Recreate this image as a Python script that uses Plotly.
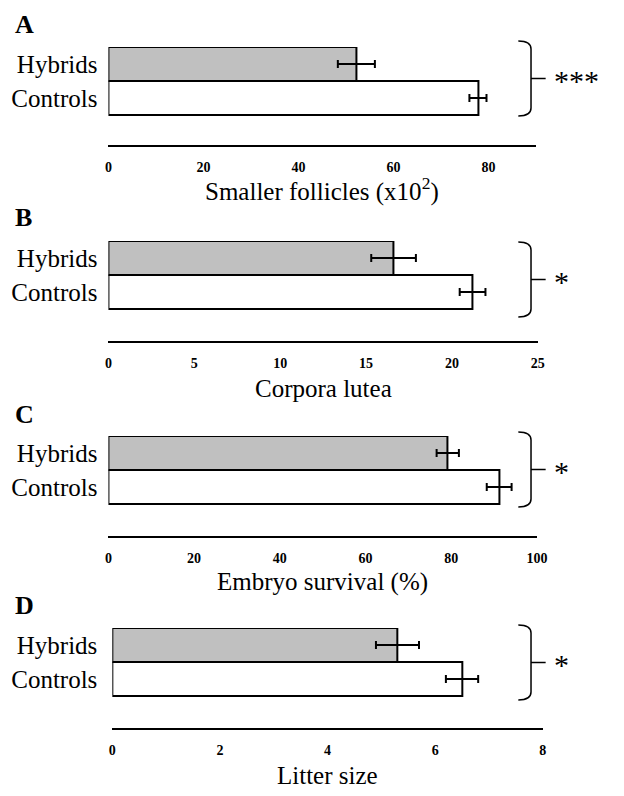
import plotly.graph_objects as go

# ---------------- data ----------------
categories = ["Controls", "Hybrids"]

follicles_mean = [77.8, 52.2]
follicles_err = [1.8, 3.9]

corpora_mean = [21.2, 16.6]
corpora_err = [0.75, 1.3]

survival_mean = [91.2, 79.2]
survival_err = [2.9, 2.6]

litter_mean = [6.5, 5.3]
litter_err = [0.3, 0.4]

panel_letters = ["A", "B", "C", "D"]
axis_titles = ["Smaller follicles (x10<sup>2</sup>)", "Corpora lutea",
               "Embryo survival (%)", "Litter size"]
significance = ["***", "*", "*", "*"]
x_ticks = [[0, 20, 40, 60, 80], [0, 5, 10, 15, 20, 25],
           [0, 20, 40, 60, 80, 100], [0, 2, 4, 6, 8]]
x_ranges = [[0, 90], [0, 25], [0, 100], [0, 8]]
means = [follicles_mean, corpora_mean, survival_mean, litter_mean]
errs = [follicles_err, corpora_err, survival_err, litter_err]

# ---------------- layout geometry (pixels of the page) ----------------
W, H = 624, 796
FONT = "Liberation Serif"
geo = [
    dict(x0=107, x1=545, top=47, axis=145, letter=25, title=190, bt=41, bb=116),
    dict(x0=107, x1=547, top=241, axis=341, letter=217, title=388, bt=242, bb=317),
    dict(x0=107, x1=546, top=436, axis=536, letter=415, title=582, bt=432, bb=507),
    dict(x0=111, x1=552, top=628, axis=728, letter=605, title=775, bt=625, bb=700),
]
BAR_PX = 34


def px(x):
    return x / W


def py(y):
    return 1 - y / H


fig = go.Figure()
colors = ["white", "#c0c0c0"]
annotations = []
shapes = []

for i in range(4):
    g = geo[i]
    xa = "x" if i == 0 else f"x{i+1}"
    ya = "y" if i == 0 else f"y{i+1}"
    fig.add_trace(go.Bar(
        x=means[i], y=categories, orientation="h",
        marker=dict(color=colors, line=dict(color="black", width=2)),
        width=1,
        error_x=dict(type="data", array=errs[i], color="black",
                     thickness=2, width=4),
        xaxis=xa, yaxis=ya, showlegend=False, hoverinfo="x+y",
    ))
    xkey = "xaxis" if i == 0 else f"xaxis{i+1}"
    ykey = "yaxis" if i == 0 else f"yaxis{i+1}"
    span = (g["axis"] - g["top"]) / BAR_PX
    fig.update_layout(**{
        xkey: dict(domain=[px(g["x0"]), px(g["x1"])], anchor=ya,
                   range=x_ranges[i], tickvals=x_ticks[i],
                   showline=True, linecolor="black", linewidth=2,
                   ticks="", showgrid=False, zeroline=False,
                   ticklabelstandoff=8,
                   tickfont=dict(family=FONT, size=14, color="black",
                                 weight="bold")),
        ykey: dict(domain=[py(g["axis"]), py(g["top"])], anchor=xa,
                   type="category", categoryorder="array",
                   categoryarray=categories,
                   range=[1.5 - span, 1.5],
                   showline=False, showgrid=False, zeroline=False,
                   ticks="", ticklabelstandoff=10 + (g["x0"] - 107),
                   tickfont=dict(family=FONT, size=25, color="black")),
    })
    # panel letter
    annotations.append(dict(text=panel_letters[i], xref="paper", yref="paper",
                            x=px(9), y=py(g["letter"]), xanchor="left",
                            yanchor="middle", showarrow=False,
                            font=dict(family=FONT, size=26, color="black",
                                      weight="bold")))
    # axis title
    annotations.append(dict(text=axis_titles[i], xref="paper", yref="paper",
                            x=px((g["x0"] + g["x1"]) / 2), y=py(g["title"]),
                            xanchor="center", yanchor="middle", showarrow=False,
                            font=dict(family=FONT, size=25, color="black")))
    # bracket
    bt, bb = g["bt"], g["bb"]
    mid = (bt + bb) / 2
    bx = 540
    path = (f"M {px(527)},{py(bt)} Q {px(bx)},{py(bt)} {px(bx)},{py(bt+8)} "
            f"L {px(bx)},{py(bb-8)} Q {px(bx)},{py(bb)} {px(527)},{py(bb)}")
    shapes.append(dict(type="path", xref="paper", yref="paper", path=path,
                       line=dict(color="black", width=1.5)))
    shapes.append(dict(type="line", xref="paper", yref="paper",
                       x0=px(bx), x1=px(555), y0=py(mid), y1=py(mid),
                       line=dict(color="black", width=1.5)))
    annotations.append(dict(text=significance[i], xref="paper", yref="paper",
                            x=px(562), y=py(mid + 2), xanchor="left",
                            yanchor="middle", showarrow=False,
                            font=dict(family=FONT, size=30, color="black")))

fig.update_layout(width=W, height=H, margin=dict(l=0, r=0, t=0, b=0),
                  paper_bgcolor="white", plot_bgcolor="white",
                  annotations=annotations, shapes=shapes, bargap=0)

fig.write_html(
    "out.html",
    config={"displayModeBar": False},
    post_script="document.body.style.margin='0';"
                "document.body.style.overflow='hidden';",
)
